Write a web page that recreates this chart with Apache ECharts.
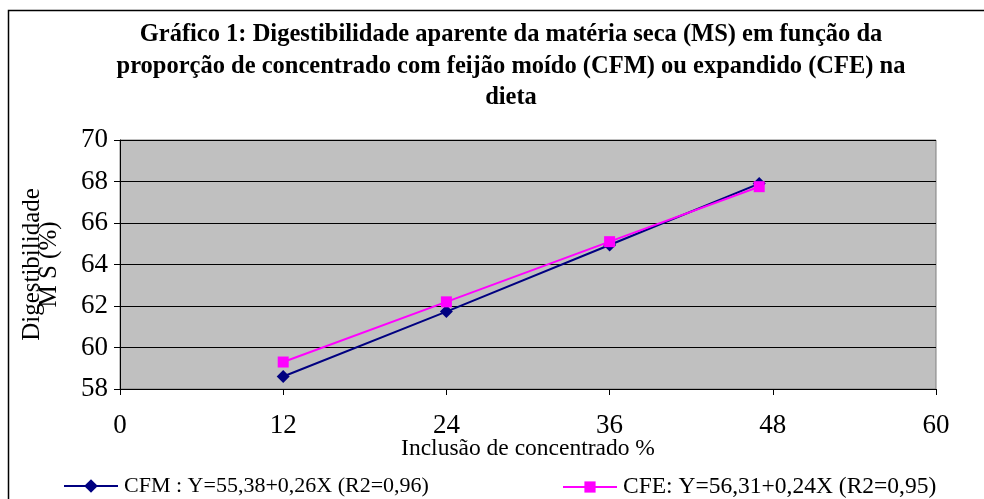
<!DOCTYPE html>
<html>
<head>
<meta charset="utf-8">
<script src="https://cdn.jsdelivr.net/npm/echarts@6/dist/echarts.min.js"></script>
<style>html,body{margin:0;padding:0;background:#fff}#c{width:984px;height:499px}</style>
</head>
<body>
<div id="c"></div>
<script>
const xValues = [12, 24, 36, 47];
const cfm = [58.6, 61.73, 64.94, 67.9];
const cfe = [59.3, 62.2, 65.1, 67.75];
const seriesNames = ['CFM : Y=55,38+0,26X (R2=0,96)', 'CFE: Y=56,31+0,24X (R2=0,95)'];
const titleText = 'Gráfico 1: Digestibilidade aparente da matéria seca (MS) em função da\nproporção de concentrado com feijão moído (CFM) ou expandido (CFE) na\ndieta';
const yName = 'Digestibilidade\nM S (%)';
const xName = 'Inclusão de concentrado %';

const FF = "'Liberation Serif', 'Times New Roman', serif";
const chart = echarts.init(document.getElementById('c'));
chart.setOption({
  animation: false,
  backgroundColor: '#fff',
  graphic: [{
    type: 'rect', z: -10,
    shape: {x: 8.5, y: 10.5, width: 1000, height: 520},
    style: {fill: '#fff', stroke: '#000', lineWidth: 1.5}
  }],
  title: {
    text: titleText,
    left: 506, top: 14, textAlign: 'center',
    textStyle: {fontFamily: FF, fontWeight: 'bold', fontSize: 24.5, lineHeight: 31.5, color: '#000'}
  },
  grid: {
    left: 120, right: 48, top: 140, bottom: 110,
    outerBoundsMode: 'none', containLabel: false,
    show: true, backgroundColor: '#C0C0C0', borderColor: '#808080', borderWidth: 1
  },
  xAxis: {
    type: 'value', min: 0, max: 60, interval: 12,
    name: xName, nameLocation: 'middle', nameGap: 48, nameMoveOverlap: false,
    nameTextStyle: {fontFamily: FF, fontSize: 23.5, color: '#000'},
    axisLine: {show: true, onZero: false, lineStyle: {color: '#000', width: 1}},
    axisTick: {show: true, inside: false, length: 6, lineStyle: {color: '#000'}},
    axisLabel: {fontFamily: FF, fontSize: 27, color: '#000', margin: 23},
    splitLine: {show: false}
  },
  yAxis: {
    type: 'value', min: 58, max: 70, interval: 2,
    name: yName, nameLocation: 'middle', nameGap: 62, nameRotate: 90, nameMoveOverlap: false,
    nameTextStyle: {fontFamily: FF, fontSize: 25, color: '#000', lineHeight: 17},
    axisLine: {show: true, lineStyle: {color: '#000', width: 1}},
    axisTick: {show: true, inside: false, length: 6, lineStyle: {color: '#000'}},
    axisLabel: {fontFamily: FF, fontSize: 27, color: '#000', margin: 12},
    splitLine: {show: true, lineStyle: {color: '#000', width: 1}}
  },
  legend: [{
    data: [seriesNames[0]], left: 63, top: 475, padding: 0,
    itemWidth: 54, itemHeight: 17, itemGap: 5,
    textStyle: {fontFamily: FF, fontSize: 22, color: '#000', padding: [0, 0, 0, 1]}
  }, {
    data: [seriesNames[1]], left: 562, top: 475, padding: 0,
    itemWidth: 54, itemHeight: 14, itemGap: 5,
    textStyle: {fontFamily: FF, fontSize: 23.5, color: '#000', padding: [0, 0, 0, 1]}
  }],
  series: [{
    name: seriesNames[0], type: 'line',
    data: xValues.map((x, i) => [x, cfm[i]]),
    symbol: 'diamond', symbolSize: 13,
    lineStyle: {color: '#000080', width: 2},
    itemStyle: {color: '#000080'}, z: 2
  }, {
    name: seriesNames[1], type: 'line',
    data: xValues.map((x, i) => [x, cfe[i]]),
    symbol: 'rect', symbolSize: 11,
    lineStyle: {color: '#FF00FF', width: 2},
    itemStyle: {color: '#FF00FF'}, z: 3
  }]
});
</script>
</body>
</html>
